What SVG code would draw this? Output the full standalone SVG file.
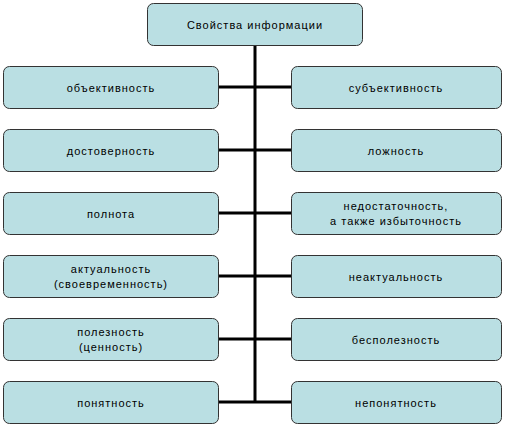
<svg xmlns="http://www.w3.org/2000/svg" width="510" height="426" viewBox="0 0 510 426">
<style>
.b{fill:#BADFE3;stroke:#333;stroke-width:1}
.t{font-family:"Liberation Sans",Arial,sans-serif;font-size:11px;fill:#000;text-anchor:middle;letter-spacing:1px}
.c{stroke:#000;stroke-width:3;fill:none}
</style>
<rect width="510" height="426" fill="#fff"/>
<g id="connectors">
<path class="c" d="M255 45V402"/>
<path class="c" d="M218 87H291M218 150H291M218 213H291M218 276H291M218 339H291M218 402H291"/>
</g>
<g id="root"><rect class="b" x="147.5" y="3.5" width="215" height="42" rx="6"/><text class="t" x="255" y="29">Свойства информации</text></g>
<g id="l1"><rect class="b" x="3.5" y="66.5" width="215" height="42" rx="6"/><text class="t" x="111" y="92">объективность</text></g>
<g id="l2"><rect class="b" x="3.5" y="129.5" width="215" height="42" rx="6"/><text class="t" x="111" y="155">достоверность</text></g>
<g id="l3"><rect class="b" x="3.5" y="192.5" width="215" height="42" rx="6"/><text class="t" x="111" y="218">полнота</text></g>
<g id="l4"><rect class="b" x="3.5" y="255.5" width="215" height="42" rx="6"/><text class="t" x="111" y="273">актуальность</text><text class="t" x="111" y="288">(своевременность)</text></g>
<g id="l5"><rect class="b" x="3.5" y="318.5" width="215" height="42" rx="6"/><text class="t" x="111" y="336">полезность</text><text class="t" x="111" y="351">(ценность)</text></g>
<g id="l6"><rect class="b" x="3.5" y="381.5" width="215" height="42" rx="6"/><text class="t" x="111" y="407">понятность</text></g>
<g id="r1"><rect class="b" x="291.5" y="66.5" width="210" height="42" rx="6"/><text class="t" x="396" y="92">субъективность</text></g>
<g id="r2"><rect class="b" x="291.5" y="129.5" width="210" height="42" rx="6"/><text class="t" x="396" y="155">ложность</text></g>
<g id="r3"><rect class="b" x="291.5" y="192.5" width="210" height="42" rx="6"/><text class="t" x="396" y="210">недостаточность,</text><text class="t" x="396" y="225">а также избыточность</text></g>
<g id="r4"><rect class="b" x="291.5" y="255.5" width="210" height="42" rx="6"/><text class="t" x="396" y="281">неактуальность</text></g>
<g id="r5"><rect class="b" x="291.5" y="318.5" width="210" height="42" rx="6"/><text class="t" x="396" y="344">бесполезность</text></g>
<g id="r6"><rect class="b" x="291.5" y="381.5" width="210" height="42" rx="6"/><text class="t" x="396" y="407">непонятность</text></g>
</svg>
